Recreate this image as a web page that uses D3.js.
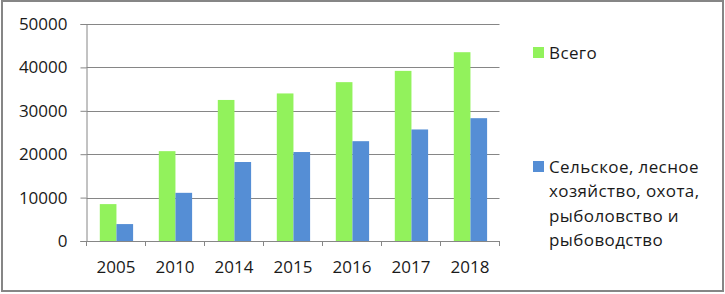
<!DOCTYPE html>
<html>
<head>
<meta charset="utf-8">
<style>
  body { margin: 0; background: #fff; }
  text { font-family: "Open Sans", sans-serif; fill: #1a1a1a; }
</style>
</head>
<body>
<script src="https://d3js.org/d3.v7.min.js"></script>
<script>
    var years = ["2005", "2010", "2014", "2015", "2016", "2017", "2018"];
    var total = [8500, 20700, 32500, 34000, 36600, 39200, 43500];
    var agri = [3900, 11100, 18200, 20500, 23000, 25700, 28300];
    var yTicks = [0, 10000, 20000, 30000, 40000, 50000];
    var seriesNames = ["Всего", "Сельское, лесное хозяйство, охота, рыболовство и рыбоводство"];
    var legendLines = [["Всего"], ["Сельское, лесное", "хозяйство, охота,", "рыболовство и", "рыбоводство"]];
    var colors = ["#92F25C", "#558ED5"];

    const W = 725, H = 294;
    const plotLeft = 86.5, plotRight = 499.5, plotTop = 24, plotBottom = 241;

    const svg = d3.select("body").append("svg")
        .attr("width", W).attr("height", H);

    // outer frame
    svg.append("rect")
        .attr("x", 2).attr("y", 1).attr("width", 721).attr("height", 290)
        .attr("fill", "#fff").attr("stroke", "#868686").attr("stroke-width", 2);

    var y = d3.scaleLinear().domain([0, 50000]).range([plotBottom, plotTop]);
    var x0 = d3.scaleBand().domain(years).range([plotLeft, plotRight]).padding(0);
    var x1 = d3.scaleBand().domain([0, 1]).range([13.3, 46.6]);

    // gridlines
    svg.append("g").selectAll("line").data(yTicks.slice(1)).enter().append("line")
        .attr("x1", plotLeft).attr("x2", plotRight)
        .attr("y1", d => Math.round(y(d)) + 0.5).attr("y2", d => Math.round(y(d)) + 0.5)
        .attr("stroke", "#868686").attr("stroke-width", 1);

    // bars
    var groups = svg.append("g").selectAll("g").data(years).enter().append("g")
        .attr("transform", d => "translate(" + x0(d) + ",0)");
    groups.selectAll("rect").data((d, i) => [total[i], agri[i]]).enter().append("rect")
        .attr("x", (d, j) => x1(j))
        .attr("width", x1.bandwidth())
        .attr("y", d => y(d))
        .attr("height", d => plotBottom - y(d))
        .attr("fill", (d, j) => colors[j]);

    // y axis
    var yAxis = svg.append("g")
        .attr("transform", "translate(" + plotLeft + ",0)")
        .call(d3.axisLeft(y).tickValues(yTicks).tickSize(6).tickPadding(13).tickFormat(d3.format("d")));
    yAxis.selectAll("path, line").attr("stroke", "#868686");
    yAxis.selectAll("text").style("font-size", "17px").attr("fill", "#1a1a1a").style("font-family", "Open Sans");

    // x axis (ticks at category boundaries)
    var xa = svg.append("g");
    xa.append("line").attr("x1", plotLeft - 6).attr("x2", plotRight)
        .attr("y1", plotBottom + 0.5).attr("y2", plotBottom + 0.5).attr("stroke", "#868686");
    var bounds = years.map(d => x0(d)).concat([plotRight]);
    xa.selectAll("line.t").data(bounds).enter().append("line").attr("class", "t")
        .attr("x1", d => d).attr("x2", d => d)
        .attr("y1", plotBottom).attr("y2", plotBottom + 5).attr("stroke", "#868686");
    xa.selectAll("text").data(years).enter().append("text")
        .attr("x", d => x0(d) + x0.bandwidth() / 2)
        .attr("y", 273)
        .attr("text-anchor", "middle")
        .style("font-size", "17px")
        .text(d => d);

    // legend
    var legY = [47, 161];
    var lg = svg.append("g").selectAll("g").data(legendLines).enter().append("g");
    lg.append("rect")
        .attr("x", 533).attr("y", (d, i) => legY[i])
        .attr("width", 11).attr("height", 11)
        .attr("fill", (d, i) => colors[i]);
    lg.each(function (lines, i) {
        var t = d3.select(this).append("text")
            .attr("x", 549).attr("y", legY[i] + 12)
            .style("font-size", "17px")
            .style("letter-spacing", "0.4px");
        t.selectAll("tspan").data(lines).enter().append("tspan")
            .attr("x", 549).attr("dy", (d, k) => k === 0 ? 0 : 24.3)
            .text(d => d);
    });
</script>
</body>
</html>
